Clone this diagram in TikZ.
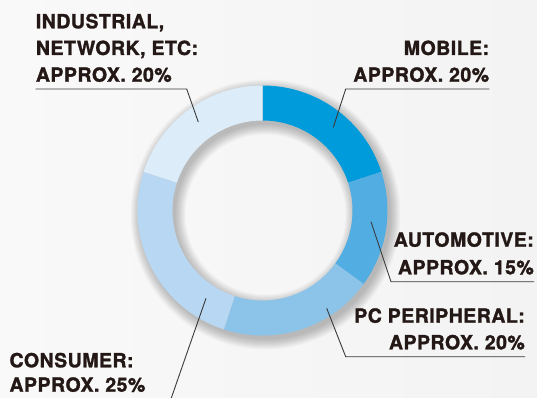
\documentclass[tikz,border=0pt]{standalone}
\usepackage{fontspec}
\setmainfont{TeX Gyre Heros}[LetterSpace=2.5, BoldFeatures={FakeBold=1.4}]
\usetikzlibrary{calc}
\definecolor{bgl}{HTML}{F9F9F9}
\definecolor{bgr}{HTML}{F3F3F3}
\definecolor{txt}{HTML}{231815}
\definecolor{ln}{HTML}{3A3A3A}
\definecolor{cmob}{HTML}{009BDB}
\definecolor{caut}{HTML}{52ADE3}
\definecolor{cpc}{HTML}{8BC3E9}
\definecolor{ccon}{HTML}{B7D7F2}
\definecolor{cind}{HTML}{DCEDF9}
\newcommand\donutseg[3]{\fill[#3] ($(C)+(#1:125pt)$) arc[start angle=#1, end angle=#2, radius=125pt] -- ($(C)+(#2:90pt)$) arc[start angle=#2, end angle=#1, radius=90pt] -- cycle;}
\begin{document}
\begin{tikzpicture}[x=1pt,y=1pt,
  lab/.style={inner sep=0pt, text=txt, font=\bfseries\fontsize{19.5}{22}\selectfont},
  leader/.style={draw=ln, line width=0.9pt}]
\useasboundingbox (0,0) rectangle (537,397);
\shade[left color=bgl, right color=bgr] (0,0) rectangle (537,397);
\coordinate (C) at (262.5,186.5);
\coordinate (S) at (265.5,182.5);
% soft shadow of the ring
\foreach \k in {0,...,10} {
  \fill[black, opacity=0.022, even odd rule] (S) circle[radius={(125+\k)*1pt}] (S) circle[radius={(90-\k)*1pt}];
}
% ring segments
\donutseg{90}{18}{cmob}
\donutseg{18}{-36}{caut}
\donutseg{-36}{-108}{cpc}
\donutseg{-108}{-198}{ccon}
\donutseg{-198}{-270}{cind}
% labels
\node[lab, anchor=base west] (ind1) at (35.7,368.7) {INDUSTRIAL,};
\node[lab, anchor=base west] (ind2) at (35.7,342) {NETWORK, ETC:};
\node[lab, anchor=base west] (ind3) at (35.7,315.3) {APPROX. 20\%};
\coordinate (indA) at (35.7,308);
\coordinate (indB) at (186.7,308);
\coordinate (indP) at (198.3,275);
\draw[leader] (indA) -- (indB) -- (indP);

\node[lab, anchor=base east] (mob1) at (489.3,342) {MOBILE:};
\node[lab, anchor=base east] (mob2) at (489.3,315.3) {APPROX. 20\%};
\coordinate (mobA) at (489.3,308);
\coordinate (mobB) at (345.7,308);
\coordinate (mobP) at (333.3,269.7);
\draw[leader] (mobA) -- (mobB) -- (mobP);

\node[lab, anchor=base east] (aut1) at (534,150.3) {AUTOMOTIVE:};
\node[lab, anchor=base east] (aut2) at (534,122.7) {APPROX. 15\%};
\coordinate (autA) at (534,115.3);
\coordinate (autB) at (391,115.3);
\coordinate (autP) at (371,175.3);
\draw[leader] (autA) -- (autB) -- (autP);

\node[lab, anchor=base east] (pc1) at (525,74.3) {PC PERIPHERAL:};
\node[lab, anchor=base east] (pc2) at (525,47.7) {APPROX. 20\%};
\coordinate (pcA) at (525,40.3);
\coordinate (pcB) at (345.7,40.3);
\coordinate (pcP) at (326.7,88.7);
\draw[leader] (pcA) -- (pcB) -- (pcP);

\node[lab, anchor=base west] (con1) at (9.3,29.7) {CONSUMER:};
\node[lab, anchor=base west] (con2) at (9.3,5.3) {APPROX. 25\%};
\coordinate (conP) at (206,98.7);
\coordinate (conB) at (169.2,-7);
\begin{scope}
\clip (0,0) rectangle (537,397);
\draw[leader] (conP) -- (conB);
\end{scope}
\end{tikzpicture}
\end{document}
